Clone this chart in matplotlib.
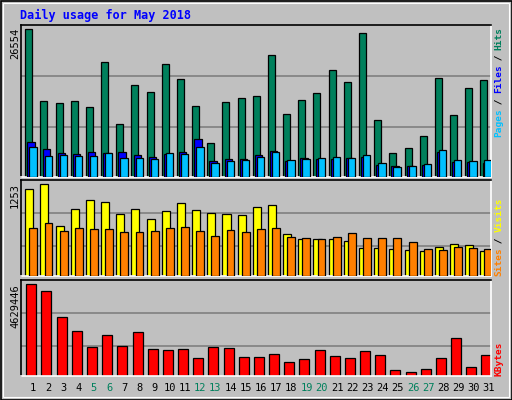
import matplotlib
matplotlib.use("Agg")
import matplotlib.pyplot as plt
from matplotlib.patches import Rectangle
import numpy as np

days = list(range(1, 32))
weekend = [5, 6, 12, 13, 19, 20, 26, 27]
hits = [26554, 13550, 13190, 13550, 12470, 20580, 9470, 16510, 15250, 20220, 17690, 12650, 6140,
        13370, 14090, 14450, 21840, 11330, 13730, 14990, 19140, 17150, 25830, 10250, 4200, 5110, 7270,
        17870, 11090, 15970, 17510]
files = [6320, 5050, 4330, 4150, 4510, 4330, 4510, 3970, 3610, 4150, 4510, 6860, 2890, 3250,
         3250, 3970, 4690, 2890, 3430, 3250, 3250, 3430, 3610, 2040, 1860, 1860, 2040, 4510,
         2710, 2710, 2530]
pages = [5410, 3790, 3970, 3790, 3790, 4330, 3430, 3430, 3250, 4330, 4150, 5410, 2400, 2890,
         3070, 3610, 4510, 3070, 3250, 3430, 3610, 3430, 3970, 2400, 1680, 1860, 2220, 4750,
         3070, 2890, 3070]
visits = [1185, 1253, 681, 913, 1036, 1008, 845, 913, 777, 886, 995, 899, 858, 845, 831, 940,
          967, 572, 504, 504, 504, 477, 381, 381, 368, 354, 341, 395, 436, 422, 341]
sites = [654, 722, 613, 654, 640, 640, 599, 599, 613, 654, 667, 613, 545, 627, 599, 640, 654,
         531, 518, 504, 531, 586, 518, 518, 518, 463, 368, 354, 395, 381, 368]
kbytes = [4629446, 4274630, 2957700, 2248070, 1437060, 2045320, 1487750, 2197380, 1335700,
          1285020, 1335700, 879500, 1437060, 1386380, 929200, 929200, 1081260, 675760, 827820,
          1285020, 980900, 879500, 1234340, 1031580, 270270, 168900, 321000, 879500, 1893280,
          422320, 1031580]

HIT = '#00805C'; FIL = '#0000FF'; PAG = '#00C0FF'
VIS = '#FFFF00'; SIT = '#FF8000'; KB = '#FF0000'; BG = '#C0C0C0'

W, H = 512, 400
fig = plt.figure(figsize=(W / 100, H / 100), dpi=100, facecolor=BG)
mono = 'DejaVu Sans Mono'

def px_axes(x0, y0, x1, y1):
    return fig.add_axes([x0 / W, 1 - y1 / H, (x1 - x0) / W, (y1 - y0) / H])

def ftext(x, y, s, **kw):
    fig.text(x / W, 1 - y / H, s, **kw)

# outer frame
fig.patches.append(Rectangle((0.5 / W, 0.5 / H), 1 - 1 / W, 1 - 1 / H, transform=fig.transFigure,
                             fill=False, ec='black', lw=1.2))
fig.patches.append(Rectangle((3 / W, 3 / H), 1 - 6 / W, 1 - 6 / H, transform=fig.transFigure,
                             fill=False, ec='white', lw=0.8))

x = np.arange(31)

def style(ax, top, grids):
    ax.set_facecolor(BG)
    ax.set_xlim(0, 31)
    ax.set_ylim(0, top)
    for g in grids:
        ax.axhline(g, color='#808080', lw=1.2, zorder=0)
    ax.set_xticks([]); ax.set_yticks([])
    for s in ax.spines.values():
        s.set_color('black'); s.set_linewidth(1.2)
    ax.spines['right'].set_color('white'); ax.spines['bottom'].set_color('white')

# top panel
a1 = px_axes(20.7, 24.7, 491, 176.7)
m = max(hits); u = 147.4
style(a1, m * 152 / u, [m * (176.7 - 127.3) / u, m * (176.7 - 76.3) / u])
kw = dict(align='edge', edgecolor='black', linewidth=0.9)
a1.bar(x + 0.30, hits, 0.46, color=HIT, zorder=2, **kw)
a1.bar(x + 0.44, files, 0.48, color=FIL, zorder=3, **kw)
a1.bar(x + 0.57, pages, 0.48, color=PAG, zorder=4, **kw)

# middle panel
a2 = px_axes(20.7, 180.3, 491, 276.3)
m2 = max(visits); u2 = 276 / 3
style(a2, m2 * 96 / u2, [m2 * (304 - 214) / 276, m2 * (304 - 115) / 276])
a2.bar(x + 0.30, visits, 0.53, color=VIS, zorder=2, **kw)
a2.bar(x + 0.57, sites, 0.52, color=SIT, zorder=3, **kw)

# bottom panel
a3 = px_axes(20.7, 280.3, 491, 375.7)
m3 = max(kbytes)
style(a3, m3 * 286 / 274, [m3 * (602 - 514) / 274, m3 * (602 - 415) / 274])
a3.bar(x + 0.37, kbytes, 0.66, color=KB, zorder=2, **kw)

# day labels
for d in days:
    ftext(20.7 + (d - 1 + 0.81) * 15.2, 388, str(d), ha='center', va='center', family=mono,
          fontsize=7.5, color=HIT if d in weekend else 'black')

# title
ftext(20, 15, 'Daily usage for May 2018', family=mono, fontsize=8.5, weight='bold',
      color='#0000FF', ha='left', va='center')

# y max labels
for y, s in [(28, '26554'), (183, '1253'), (284, '4629446')]:
    ftext(15, y, s, rotation=90, ha='center', va='top', family=mono, fontsize=7.5, color='black')

# right legends
def legend(ybot, parts):
    k = 0
    for s, c in parts:
        ftext(499, ybot - k * 5.45, s, rotation=90, ha='center', va='bottom', family=mono,
              fontsize=6.8, weight='bold', color=c)
        k += len(s)

legend(137, [('Pages', PAG), (' / ', 'black'), ('Files', FIL), (' / ', 'black'), ('Hits', HIT)])
legend(276, [('Sites', SIT), (' / ', 'black'), ('Visits', VIS)])
legend(376, [('KBytes', KB)])

fig.savefig('out.png', dpi=100, facecolor=BG)
